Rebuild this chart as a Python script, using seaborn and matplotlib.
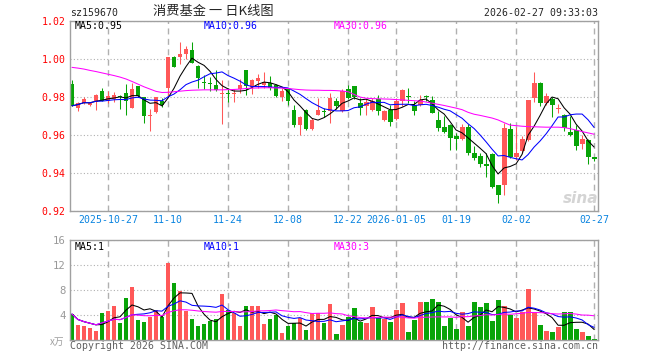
import numpy as np
import pandas as pd
import matplotlib
matplotlib.use("Agg")
import matplotlib.pyplot as plt
import seaborn as sns

# daily candles, 2025-10-17 .. 2026-02-27 (88 trading days)
opens = [
    0.9867, 0.9743, 0.9766, 0.9756, 0.9770, 0.9828, 0.9779, 0.9788, 0.9805, 0.9819,
    0.9743, 0.9855, 0.9796, 0.9701, 0.9720, 0.9780, 0.9847, 1.0008, 1.0010, 1.0022,
    1.0045, 0.9961, 0.9878, 0.9870, 0.9864, 0.9812, 0.9820, 0.9813, 0.9842, 0.9938,
    0.9852, 0.9881, 0.9862, 0.9873, 0.9864, 0.9800, 0.9842, 0.9732, 0.9653, 0.9732,
    0.9631, 0.9706, 0.9722, 0.9723, 0.9776, 0.9723, 0.9842, 0.9855, 0.9767, 0.9750,
    0.9732, 0.9789, 0.9676, 0.9732, 0.9683, 0.9776, 0.9801, 0.9759, 0.9759, 0.9802,
    0.9785, 0.9676, 0.9641, 0.9653, 0.9592, 0.9578, 0.9641, 0.9507, 0.9490, 0.9448,
    0.9500, 0.9337, 0.9337, 0.9632, 0.9483, 0.9513, 0.9574, 0.9794, 0.9873, 0.9768,
    0.9789, 0.9735, 0.9706, 0.9613, 0.9623, 0.9553, 0.9574, 0.9483]
highs = [
    0.9888, 0.9770, 0.9800, 0.9772, 0.9814, 0.9844, 0.9830, 0.9827, 0.9809, 0.9867,
    0.9871, 0.9857, 0.9799, 0.9735, 0.9800, 0.9795, 1.0010, 1.0012, 1.0087, 1.0066,
    1.0087, 0.9965, 0.9913, 0.9905, 0.9939, 0.9887, 0.9847, 0.9840, 0.9893, 0.9940,
    0.9895, 0.9918, 0.9929, 0.9910, 0.9868, 0.9847, 0.9847, 0.9754, 0.9700, 0.9735,
    0.9690, 0.9794, 0.9743, 0.9817, 0.9794, 0.9841, 0.9859, 0.9857, 0.9794, 0.9790,
    0.9794, 0.9810, 0.9732, 0.9759, 0.9794, 0.9838, 0.9847, 0.9776, 0.9810, 0.9810,
    0.9802, 0.9723, 0.9699, 0.9655, 0.9611, 0.9655, 0.9655, 0.9542, 0.9504, 0.9504,
    0.9502, 0.9337, 0.9662, 0.9662, 0.9640, 0.9592, 0.9785, 0.9929, 0.9876, 0.9820,
    0.9801, 0.9761, 0.9708, 0.9697, 0.9653, 0.9601, 0.9576, 0.9485]
lows = [
    0.9750, 0.9727, 0.9760, 0.9750, 0.9731, 0.9775, 0.9765, 0.9773, 0.9738, 0.9703,
    0.9743, 0.9796, 0.9664, 0.9620, 0.9715, 0.9745, 0.9796, 0.9955, 0.9970, 1.0000,
    0.9975, 0.9845, 0.9841, 0.9830, 0.9830, 0.9659, 0.9771, 0.9771, 0.9818, 0.9810,
    0.9815, 0.9848, 0.9847, 0.9836, 0.9797, 0.9780, 0.9757, 0.9640, 0.9597, 0.9625,
    0.9625, 0.9703, 0.9691, 0.9662, 0.9735, 0.9718, 0.9790, 0.9790, 0.9706, 0.9703,
    0.9723, 0.9706, 0.9671, 0.9648, 0.9680, 0.9750, 0.9768, 0.9703, 0.9750, 0.9775,
    0.9712, 0.9618, 0.9607, 0.9522, 0.9522, 0.9574, 0.9495, 0.9470, 0.9429, 0.9381,
    0.9320, 0.9244, 0.9283, 0.9480, 0.9470, 0.9504, 0.9565, 0.9771, 0.9750, 0.9759,
    0.9694, 0.9713, 0.9618, 0.9592, 0.9518, 0.9527, 0.9448, 0.9465]
closes = [
    0.9752, 0.9766, 0.9788, 0.9766, 0.9809, 0.9779, 0.9802, 0.9809, 0.9797, 0.9779,
    0.9841, 0.9802, 0.9699, 0.9706, 0.9796, 0.9756, 1.0008, 0.9955, 1.0022, 1.0049,
    0.9978, 0.9900, 0.9874, 0.9866, 0.9834, 0.9816, 0.9815, 0.9818, 0.9864, 0.9855,
    0.9890, 0.9899, 0.9875, 0.9847, 0.9806, 0.9829, 0.9776, 0.9653, 0.9694, 0.9631,
    0.9676, 0.9732, 0.9718, 0.9794, 0.9753, 0.9829, 0.9794, 0.9799, 0.9741, 0.9771,
    0.9776, 0.9723, 0.9723, 0.9665, 0.9776, 0.9834, 0.9797, 0.9723, 0.9785, 0.9798,
    0.9715, 0.9636, 0.9613, 0.9583, 0.9578, 0.9641, 0.9504, 0.9478, 0.9448, 0.9434,
    0.9328, 0.9284, 0.9636, 0.9486, 0.9504, 0.9578, 0.9785, 0.9873, 0.9768, 0.9806,
    0.9759, 0.9740, 0.9636, 0.9601, 0.9543, 0.9578, 0.9483, 0.9473]
# volume in 万
volumes = [
    4.20, 2.45, 2.30, 1.97, 1.49, 4.37, 4.69, 5.49, 2.77, 6.77,
    8.53, 3.25, 2.93, 3.73, 4.80, 3.73, 12.37, 9.17, 7.89, 4.69,
    3.41, 2.29, 2.61, 3.15, 3.41, 7.41, 4.85, 4.37, 2.29, 5.49,
    5.49, 5.49, 2.61, 3.41, 4.05, 1.17, 2.29, 2.72, 3.57, 1.65,
    4.37, 4.37, 2.77, 5.81, 1.01, 2.45, 3.73, 5.17, 2.93, 2.77,
    5.33, 3.57, 3.41, 2.93, 4.85, 5.97, 1.33, 3.25, 6.13, 6.13,
    6.61, 6.13, 2.29, 3.57, 1.81, 4.53, 2.29, 6.13, 5.33, 5.97,
    3.09, 6.45, 5.49, 4.10, 3.60, 4.50, 8.25, 4.60, 2.45, 1.50,
    1.35, 2.15, 4.55, 4.55, 1.80, 1.40, 0.70, 0.25]
# MA30 of price (needs days before the window)
ma30_price = [
    0.9954, 0.9950, 0.9945, 0.9938, 0.9932, 0.9925, 0.9918, 0.9911, 0.9903, 0.9893,
    0.9880, 0.9866, 0.9852, 0.9840, 0.9828, 0.9822, 0.9823, 0.9826, 0.9829, 0.9832,
    0.9834, 0.9835, 0.9836, 0.9836, 0.9836, 0.9836, 0.9837, 0.9838, 0.9840, 0.9843,
    0.9845, 0.9846, 0.9847, 0.9847, 0.9846, 0.9845, 0.9843, 0.9840, 0.9837, 0.9835,
    0.9834, 0.9834, 0.9833, 0.9833, 0.9832, 0.9830, 0.9826, 0.9812, 0.9798, 0.9792,
    0.9790, 0.9789, 0.9788, 0.9787, 0.9785, 0.9783, 0.9781, 0.9779, 0.9777, 0.9772,
    0.9766, 0.9760, 0.9754, 0.9747, 0.9740, 0.9732, 0.9718, 0.9708, 0.9702, 0.9695,
    0.9688, 0.9678, 0.9664, 0.9651, 0.9648, 0.9645, 0.9643, 0.9642, 0.9641, 0.9640,
    0.9640, 0.9640, 0.9638, 0.9632, 0.9625, 0.9617, 0.9610, 0.9603]

tick_idx = [6, 16, 26, 36, 46, 54, 64, 74, 87]
tick_labels = ["2025-10-27", "11-10", "11-24", "12-08", "12-22",
               "2026-01-05", "01-19", "02-02", "02-27"]

df = pd.DataFrame({"open": opens, "high": highs, "low": lows,
                   "close": closes, "vol": volumes, "ma30": ma30_price})
df["i"] = np.arange(len(df))
df["dir"] = np.where(df.close >= df.open, "up", "down")
df["ma5"] = df.close.rolling(5, min_periods=1).mean()
df["ma10"] = df.close.rolling(10, min_periods=1).mean()
df["vma5"] = df.vol.rolling(5, min_periods=1).mean()
df["vma10"] = df.vol.rolling(10, min_periods=1).mean()
df["vma30"] = df.vol.rolling(30, min_periods=1).mean()

RED, GREEN = "#ff5858", "#08a408"
FRAME = "#a0a0a0"
MONO = "DejaVu Sans Mono"
FS = 7.1
LW = 0.75

sns.set_style("white")
plt.rcParams["font.family"] = [MONO]

fig = plt.figure(figsize=(6.6, 3.6), dpi=100)
W, H = 660, 360
x0, x1 = 70, 597.7
ax = fig.add_axes([x0 / W, 1 - 211 / H, (x1 - x0) / W, 190.5 / H])
axv = fig.add_axes([x0 / W, 1 - 340.3 / H, (x1 - x0) / W, 100 / H])

# candles
colors = np.where(df.dir == "up", RED, GREEN)
ax.vlines(df.i, df.low, df.high, colors=colors, lw=LW)
body_lo = np.minimum(df.open, df.close)
body_h = np.maximum(np.abs(df.close - df.open), 0.0005)
ax.bar(df.i, body_h, bottom=body_lo, width=0.82, color=colors, lw=0)

sns.lineplot(data=df, x="i", y="ma5", color="black", lw=LW, ax=ax)
sns.lineplot(data=df, x="i", y="ma10", color="#0000ff", lw=LW, ax=ax)
sns.lineplot(data=df, x="i", y="ma30", color="#ff00ff", lw=LW, ax=ax)

# volume
sns.barplot(data=df, x="i", y="vol", hue="dir", palette={"up": RED, "down": GREEN},
            native_scale=True, width=0.82, dodge=False, legend=False,
            saturation=1, linewidth=0, ax=axv)
sns.lineplot(data=df, x="i", y="vma5", color="black", lw=LW, ax=axv)
sns.lineplot(data=df, x="i", y="vma10", color="#0000ff", lw=LW, ax=axv)
sns.lineplot(data=df, x="i", y="vma30", color="#ff00ff", lw=LW, ax=axv)

xl = (-0.33, 87.6)
for a in (ax, axv):
    a.set_xlim(*xl)
    a.set_xlabel("")
    a.set_ylabel("")
    a.set_xticks(tick_idx)
    for s in a.spines.values():
        s.set_color(FRAME)
        s.set_linewidth(1)
    a.tick_params(length=0)
    a.grid(axis="x", color="#b0b0b0", lw=1, ls=(0, (4.3, 3.2)))
    a.grid(axis="y", color="#b0b0b0", lw=0.8, ls=(0, (1, 2)))
    a.set_axisbelow(True)

ax.set_ylim(0.92, 1.02)
ax.set_yticks([0.92, 0.94, 0.96, 0.98, 1.00, 1.02])
ax.set_yticklabels([f"{v:.2f}" for v in [0.92, 0.94, 0.96, 0.98, 1.00, 1.02]],
                   color="red", fontsize=FS)
ax.set_xticklabels(tick_labels, color="#0a84e0", fontsize=FS)
ax.tick_params(axis="y", pad=3)
ax.tick_params(axis="x", pad=3)

axv.set_ylim(0, 16)
axv.set_yticks([0, 4, 8, 12, 16])
axv.set_yticklabels(["", "4", "8", "12", "16"], color="#999999", fontsize=FS + 0.6)
axv.tick_params(axis="y", pad=3)
axv.set_xticklabels([])

# legends
ax.text(0.008, 0.971, "MA5:0.95", transform=ax.transAxes, fontsize=FS, color="black", va="center")
ax.text(0.254, 0.971, "MA10:0.96", transform=ax.transAxes, fontsize=FS, color="#0000ff", va="center")
ax.text(0.500, 0.971, "MA30:0.96", transform=ax.transAxes, fontsize=FS, color="#ff00ff", va="center")
axv.text(0.008, 0.936, "MA5:1", transform=axv.transAxes, fontsize=FS, color="black", va="center")
axv.text(0.254, 0.936, "MA10:1", transform=axv.transAxes, fontsize=FS, color="#0000ff", va="center")
axv.text(0.500, 0.936, "MA30:3", transform=axv.transAxes, fontsize=FS, color="#ff00ff", va="center")

# sina watermark
ax.text(0.968, 0.065, "sina", transform=ax.transAxes, fontsize=11, color="#d4d4d4",
        style="italic", weight="bold", ha="center", va="center", family="DejaVu Sans")

# header and footer
fig.text(x0 / W, 1 - 13.3 / H, "sz159670", fontsize=FS, va="center", ha="left")
fig.text(213 / W, 1 - 12 / H, "消费基金 一 日K线图", fontsize=9.5, va="center", ha="center",
         family=["Noto Sans CJK SC", "DejaVu Sans"])
fig.text(x1 / W, 1 - 12.7 / H, "2026-02-27 09:33:03", fontsize=FS, va="center", ha="right")
fig.text(64 / W, 1 - 342 / H, "x万", fontsize=7, color="#a0a0a0", va="center", ha="right",
         style="italic", family=["Noto Sans CJK SC", "DejaVu Sans"])
fig.text(x0 / W, 1 - 346 / H, "Copyright 2026 SINA.COM", fontsize=FS, color="#606060",
         va="center", ha="left")
fig.text(x1 / W, 1 - 346 / H, "http://finance.sina.com.cn", fontsize=FS, color="#606060",
         va="center", ha="right")

fig.savefig("out.png", dpi=100, facecolor="white")
